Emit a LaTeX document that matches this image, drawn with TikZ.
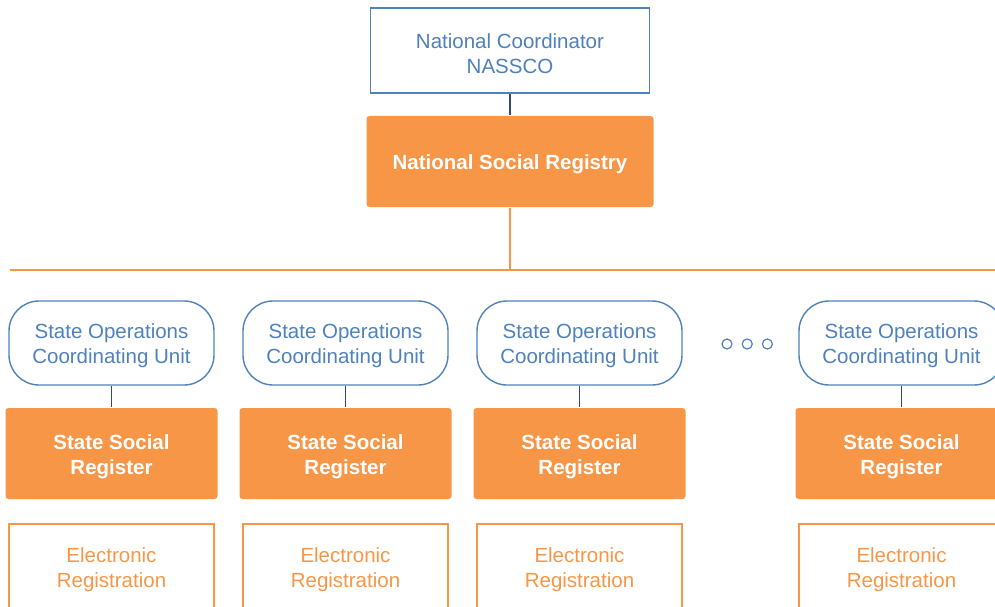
\documentclass[tikz,border=0pt]{standalone}
\usepackage{fontspec}
\setmainfont{Liberation Sans}
\usetikzlibrary{positioning}

\definecolor{regorange}{HTML}{F79646}
\definecolor{regblue}{HTML}{4F81BD}
\definecolor{linkblue}{HTML}{2F4C78}

% taller first line, pushes the text a little lower in its box
\newcommand{\topstrut}{\rule{0pt}{21pt}}

\tikzset{
  box/.style={align=center, inner sep=0pt, line width=1.4pt,
    font=\fontsize{20.5}{25}\selectfont},
  coordbox/.style={box, draw=regblue, fill=white, text=regblue,
    minimum width=279pt, minimum height=85pt},
  registry/.style={box, fill=regorange, text=white, rounded corners=3pt,
    font=\fontsize{20.5}{25}\selectfont\bfseries},
  unitbox/.style={box, draw=regblue, text=regblue, rounded corners=30pt,
    minimum width=205pt, minimum height=84pt},
  entrybox/.style={box, draw=regorange, text=regorange,
    minimum width=205pt, minimum height=86pt},
  bluelink/.style={draw=linkblue, line width=1.6pt},
  orangelink/.style={draw=regorange, line width=1.6pt},
  dot/.style={circle, draw=regblue, line width=1.2pt, minimum size=10pt, inner sep=0pt}
}

\begin{document}
\begin{tikzpicture}[x=1pt, y=-1pt]
\useasboundingbox (0,0) rectangle (995,607);
\clip (0,0) rectangle (995,607);

% national level
\node[coordbox] (nassco) at (510,50.5) {\topstrut National Coordinator\\NASSCO};
\node[registry, minimum width=287pt, minimum height=91pt] (nsr) at (510,161.5)
  {\topstrut National Social Registry};
\draw[bluelink] (nassco.south) -- (nsr.north);

% bus line to the states
\coordinate (busL) at (10,270);
\coordinate (busR) at (1000,270);
\draw[orangelink] (busL) -- (busR);
\draw[orangelink] (nsr.south) -- (nsr.south |- busL);

% one column per state
\foreach \cx/\id in {111.5/a, 345.5/b, 579.5/c, 901.5/d}{
  \node[unitbox] (socu\id) at (\cx,343) {\topstrut State Operations\\Coordinating Unit};
  \node[registry, minimum width=212pt, minimum height=91pt] (ssr\id) at (\cx,453.5)
    {\topstrut State Social\\Register};
  \node[entrybox] (reg\id) at (\cx,567) {\topstrut Electronic\\Registration};
  \draw[bluelink] (socu\id.south) -- (ssr\id.north);
}

% more states
\node[dot] (dot1) at (727,344) {};
\node[dot, right=9pt of dot1] (dot2) {};
\node[dot, right=9pt of dot2] (dot3) {};
\end{tikzpicture}
\end{document}
